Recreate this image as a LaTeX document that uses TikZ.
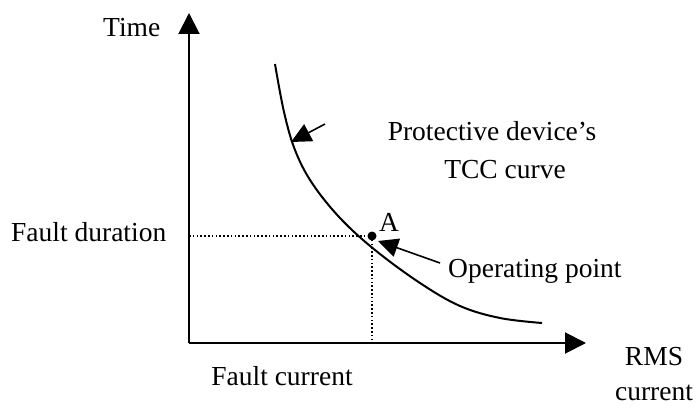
\documentclass[tikz,border=0pt]{standalone}
\usepackage{fontspec}
\setmainfont{Liberation Serif}
\usetikzlibrary{arrows.meta}
\begin{document}
\begin{tikzpicture}[x=1pt,y=-1pt,
  lbl/.style={inner sep=0pt, font=\fontsize{27.5}{33}\selectfont},
  axis/.style={line width=2pt, -{Triangle[length=21pt,width=21pt]}},
  pointer/.style={line width=1.6pt, -{Triangle[length=20pt,width=19pt]}},
  guide/.style={line width=1.6pt, dash pattern=on 1.6pt off 2.2pt},
  tcc/.style={line width=2pt}]
\useasboundingbox (0,0) rectangle (698,409);

% axes
\coordinate (O) at (189,343);
\coordinate (ytop) at (189,13);
\coordinate (xend) at (586,343);
\draw[axis] (O) -- (ytop);
\draw[axis] (O) -- (xend);

% time-current characteristic
\draw[tcc] plot[smooth, tension=0.6] coordinates {(275,64) (284,112) (295,150) (312,183) (340,218) (375,250) (420,283) (460,306) (500,318) (542,323)};

% operating point and its projections
\node[circle, fill, inner sep=0pt, minimum size=9pt] (A) at (372,236) {};
\coordinate (fd) at (O |- A);
\coordinate (fc) at (A |- O);
\draw[guide] (fd) -- (A.center);
\draw[guide] (A.center) -- (fc);

% labels
\node[lbl, anchor=base west] (time) at (103,37) {Time};
\node[lbl, anchor=base west] (dur) at (11,241) {Fault duration};
\node[lbl, anchor=base west] (lblA) at (379,231) {A};
\node[lbl, anchor=base west] (op) at (448,277) {Operating point};
\node[lbl, anchor=base] (cur) at (282,385) {Fault current};
\node[lbl, anchor=base] (rms) at (654,365) {RMS};
\node[lbl, anchor=base] (rmscur) at (654,400) {current};
\node[lbl, anchor=base] (prot) at (492,140) {Protective device’s};
\node[lbl, anchor=base] (tccl) at (505,178) {TCC curve};

% pointers
\coordinate (tccpt) at (291,142);
\coordinate (tcctail) at (325,124);
\coordinate (optail) at (440,263);
\coordinate (optip) at (378,241);
\draw[pointer] (tcctail) -- (tccpt);
\draw[pointer] (optail) -- (optip);
\end{tikzpicture}
\end{document}
